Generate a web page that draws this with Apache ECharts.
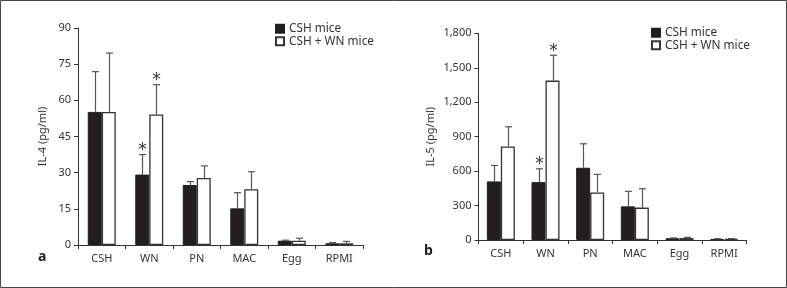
<!DOCTYPE html>
<html><head><meta charset="utf-8">
<script src="https://cdn.jsdelivr.net/npm/echarts@6/dist/echarts.min.js"></script>
<style>html,body{margin:0;padding:0;background:#fff}#c{width:787px;height:288px}</style>
</head><body><div id="c"></div>
<script>
const categories = ['CSH', 'WN', 'PN', 'MAC', 'Egg', 'RPMI'];
const seriesNames = ['CSH mice', 'CSH + WN mice'];
// Panel a: IL-4 (pg/ml)
const il4Csh = [55.2, 29.2, 24.9, 15.2, 1.8, 0.7];
const il4CshErr = [16.7, 8.3, 1.4, 6.5, 0.2, 0.3];
const il4CshStar = [0, 1, 0, 0, 0, 0];
const il4CshWn = [55.2, 54.1, 27.8, 23.1, 1.8, 0.7];
const il4CshWnErr = [24.4, 12.4, 5.0, 7.3, 1.0, 0.8];
const il4CshWnStar = [0, 1, 0, 0, 0, 0];
const il4Ticks = [0, 15, 30, 45, 60, 75, 90];
// Panel b: IL-5 (pg/ml)
const il5Csh = [510, 504, 629, 293, 15, 9];
const il5CshErr = [139, 116, 209, 131, 3, 2];
const il5CshStar = [0, 1, 0, 0, 0, 0];
const il5CshWn = [814, 1388, 414, 282, 17, 9];
const il5CshWnErr = [172, 221, 157, 165, 6, 3];
const il5CshWnStar = [0, 1, 0, 0, 0, 0];
const il5Ticks = [0, 300, 600, 900, 1200, 1500, 1800];
const il5TickLabels = ['0', '300', '600', '900', '1,200', '1,500', '1,800'];

const FONT = 'Noto Sans';
const FS = 11;
const TXT = '#333';
const BLACK = '#231f20';
const BW = 14;

function errRender(offset) {
  return function (params, api) {
    const i = api.value(0), v = api.value(1), e = api.value(2), s = api.value(3);
    const b = api.coord([i, v]);
    const t = api.coord([i, v + e]);
    const x = Math.round(b[0] + offset) + 0.5;
    const ch = [
      { type: 'line', shape: { x1: x, y1: b[1], x2: x, y2: t[1] }, style: { stroke: '#555', lineWidth: 1.2 } },
      { type: 'line', shape: { x1: x - 3.5, y1: t[1], x2: x + 3.5, y2: t[1] }, style: { stroke: '#555', lineWidth: 1.2 } }
    ];
    if (s) {
      ch.push({ type: 'text', style: { text: '*', x: x, y: t[1] - 4, fontSize: 17, fontFamily: 'DejaVu Sans', fill: '#333', align: 'center', verticalAlign: 'middle' } });
    }
    return { type: 'group', children: ch };
  };
}
function errData(vals, errs, stars) {
  return vals.map((v, i) => [i, v, errs[i], stars[i]]);
}

function xAxisCfg(gi) {
  return {
    type: 'category', gridIndex: gi, data: categories,
    axisLine: { lineStyle: { color: TXT, width: 1 } },
    axisTick: { show: true, length: 4, inside: false, alignWithLabel: false, lineStyle: { color: TXT } },
    axisLabel: { color: TXT, fontSize: FS, fontFamily: FONT, margin: 8 }
  };
}
function yAxisCfg(gi, ticks, name, gap, fmt) {
  return {
    type: 'value', gridIndex: gi, min: ticks[0], max: ticks[ticks.length - 1], interval: ticks[1] - ticks[0],
    name: name, nameLocation: 'middle', nameGap: gap, nameRotate: 90,
    nameTextStyle: { color: TXT, fontSize: FS, fontFamily: FONT },
    axisLine: { show: true, lineStyle: { color: TXT, width: 1 } },
    axisTick: { show: true, length: 4, lineStyle: { color: TXT } },
    splitLine: { show: false },
    axisLabel: { color: TXT, fontSize: FS, fontFamily: FONT, margin: 7, formatter: fmt }
  };
}
function legendCfg(left, top) {
  return { orient: 'vertical', left: left, top: top, padding: 0, icon: 'rect', itemWidth: 8, itemHeight: 8, itemGap: 0,
    data: seriesNames, selectedMode: false,
    textStyle: { color: TXT, fontSize: 11.8, fontFamily: FONT, lineHeight: 12.5, padding: [0, 0, 0, 0] } };
}

const chart = echarts.init(document.getElementById('c'), null, { renderer: 'canvas' });
chart.setOption({
  animation: false,
  backgroundColor: '#fff',
  grid: [
    { left: 78, top: 28, width: 285, height: 217 },
    { left: 478.5, top: 33.3, width: 268, height: 206.7 }
  ],
  xAxis: [xAxisCfg(0), xAxisCfg(1)],
  yAxis: [
    yAxisCfg(0, il4Ticks, 'IL-4 (pg/ml)', 30, v => String(v)),
    yAxisCfg(1, il5Ticks, 'IL-5 (pg/ml)', 42, v => il5TickLabels[il5Ticks.indexOf(v)] || String(v))
  ],
  legend: [legendCfg(275, 22.5), legendCfg(651, 26.5)],
  graphic: [
    { type: 'rect', shape: { x: 0.5, y: 0.5, width: 786, height: 287 }, style: { fill: 'none', stroke: '#444', lineWidth: 1 } },
    { type: 'text', left: 38, top: 250, style: { text: 'a', fontSize: 14, fontWeight: 'bold', fontFamily: FONT, fill: '#222' } },
    { type: 'text', left: 424, top: 244, style: { text: 'b', fontSize: 14, fontWeight: 'bold', fontFamily: FONT, fill: '#222' } }
  ],
  series: [
    { name: seriesNames[0], type: 'bar', xAxisIndex: 0, yAxisIndex: 0, data: il4Csh, barWidth: BW, barGap: '0%',
      itemStyle: { color: BLACK, borderColor: BLACK, borderWidth: 1 } },
    { name: seriesNames[1], type: 'bar', xAxisIndex: 0, yAxisIndex: 0, data: il4CshWn, barWidth: BW, barGap: '0%',
      itemStyle: { color: '#fff', borderColor: '#333', borderWidth: 1.3 } },
    { name: seriesNames[0], type: 'bar', xAxisIndex: 1, yAxisIndex: 1, data: il5Csh, barWidth: BW, barGap: '0%',
      itemStyle: { color: BLACK, borderColor: BLACK, borderWidth: 1 } },
    { name: seriesNames[1], type: 'bar', xAxisIndex: 1, yAxisIndex: 1, data: il5CshWn, barWidth: BW, barGap: '0%',
      itemStyle: { color: '#fff', borderColor: '#333', borderWidth: 1.3 } },
    { type: 'custom', xAxisIndex: 0, yAxisIndex: 0, z: 5, renderItem: errRender(-BW / 2), data: errData(il4Csh, il4CshErr, il4CshStar), encode: { x: 0, y: 1 }, clip: false },
    { type: 'custom', xAxisIndex: 0, yAxisIndex: 0, z: 5, renderItem: errRender(BW / 2), data: errData(il4CshWn, il4CshWnErr, il4CshWnStar), encode: { x: 0, y: 1 }, clip: false },
    { type: 'custom', xAxisIndex: 1, yAxisIndex: 1, z: 5, renderItem: errRender(-BW / 2), data: errData(il5Csh, il5CshErr, il5CshStar), encode: { x: 0, y: 1 }, clip: false },
    { type: 'custom', xAxisIndex: 1, yAxisIndex: 1, z: 5, renderItem: errRender(BW / 2), data: errData(il5CshWn, il5CshWnErr, il5CshWnStar), encode: { x: 0, y: 1 }, clip: false }
  ]
});
</script></body></html>
